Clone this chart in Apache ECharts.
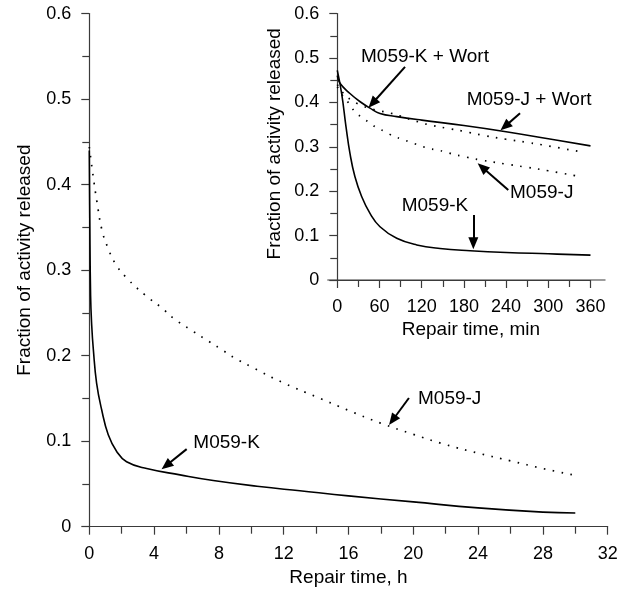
<!DOCTYPE html>
<html>
<head>
<meta charset="utf-8">
<script src="https://cdn.jsdelivr.net/npm/echarts@6/dist/echarts.min.js"></script>
<style>
  html, body { margin: 0; padding: 0; background: #fff; }
  #chart { width: 626px; height: 589px; }
</style>
</head>
<body>
<div id="chart"></div>
<script>
// ---- Main panel: repair time in hours ----
const kHours = [0, 0.03, 0.08, 0.15, 0.25, 0.45, 0.76, 1.17, 1.69, 2.3, 3.54, 5.6, 7.65, 10.5, 13, 16, 20, 24, 28, 30];
const kFraction = [0.44, 0.36, 0.27, 0.235, 0.207, 0.168, 0.137, 0.1075, 0.088, 0.076, 0.068, 0.0606, 0.054, 0.047, 0.042, 0.036, 0.029, 0.022, 0.017, 0.016];

const jHours = [0, 0.23, 0.47, 0.78, 1.13, 1.6, 2.3, 3.5, 4.4, 5.25, 6.2, 7.1, 8.1, 9, 10, 12, 14, 16, 18, 20, 22, 24, 26, 28, 30];
const jFraction = [0.444, 0.411, 0.38, 0.347, 0.327, 0.308, 0.291, 0.27, 0.257, 0.243, 0.231, 0.22, 0.208, 0.197, 0.187, 0.168, 0.152, 0.136, 0.121, 0.108, 0.096, 0.086, 0.077, 0.068, 0.06];

// ---- Inset: first six hours, in minutes ----
const kMin = [0, 6.2, 12.4, 18, 25, 34.6, 46.5, 60.7, 84.5, 113, 146, 189, 240, 300, 360];
const kMinFraction = [0.472, 0.42, 0.345, 0.285, 0.233, 0.188, 0.15, 0.12, 0.094, 0.079, 0.071, 0.066, 0.062, 0.059, 0.056];

const kWortMin = [0, 3.8, 18, 32, 46.5, 60.7, 84.5, 120, 180, 240, 300, 360];
const kWortFraction = [0.46, 0.443, 0.42, 0.402, 0.387, 0.375, 0.368, 0.36, 0.348, 0.334, 0.318, 0.302];

const jWortMin = [0, 10, 20, 30, 45, 60, 75, 90, 105, 120, 132, 155, 179, 210, 240, 270, 300, 345];
const jWortFraction = [0.44, 0.418, 0.405, 0.396, 0.387, 0.381, 0.376, 0.369, 0.361, 0.354, 0.349, 0.342, 0.335, 0.325, 0.317, 0.31, 0.302, 0.289];

const jMin = [0, 8.5, 18, 25, 35, 46, 56, 68, 80, 92, 103, 115, 129, 141, 153, 165, 177, 205, 240, 269, 300, 345];
const jMinFraction = [0.435, 0.413, 0.395, 0.379, 0.366, 0.354, 0.343, 0.334, 0.324, 0.317, 0.311, 0.304, 0.297, 0.293, 0.289, 0.283, 0.279, 0.27, 0.261, 0.254, 0.246, 0.233];

const zip = (xs, ys) => xs.map((x, i) => [x, ys[i]]);

const FONT = "'Liberation Sans', Arial, Helvetica, sans-serif";
const INK = '#000';
const AXIS = '#3a3a3a';
const SMOOTH = 0.45;

function valueAxis(gridIndex, min, max, interval, extra) {
  return Object.assign({
    type: 'value', gridIndex, min, max, interval,
    axisLine: { show: true, onZero: false, lineStyle: { color: AXIS, width: 1.2 } },
    axisTick: { show: true, inside: false, length: 8, lineStyle: { color: AXIS, width: 1.2 } },
    minorTick: { show: true, splitNumber: 2, length: 7, lineStyle: { color: AXIS, width: 1.2 } },
    splitLine: { show: false },
    minorSplitLine: { show: false },
    axisLabel: { fontFamily: FONT, fontSize: 18, color: INK, margin: 18 },
    nameLocation: 'middle',
    nameTextStyle: { fontFamily: FONT, fontSize: 19, color: INK }
  }, extra || {});
}

const solid = { color: INK, width: 1.6, type: 'solid' };
const dotted = { color: INK, width: 1.7, type: [1.6, 7.4], cap: 'butt' };

// arrow from a label toward the curve: [from, to] in data coordinates
function arrow(from, to) {
  return [
    { coord: from, symbol: 'none' },
    { coord: to, symbol: 'triangle', symbolSize: [10, 12] }
  ];
}
function tag(text, at) {
  return {
    coord: at, value: text, symbol: 'circle', symbolSize: 0,
    label: {
      show: true, position: 'right', distance: 0, formatter: text,
      fontFamily: FONT, fontSize: 19, color: INK
    }
  };
}
function annotate(arrows, tags) {
  return {
    markLine: {
      silent: true, animation: false,
      lineStyle: { color: INK, width: 2, type: 'solid' },
      label: { show: false },
      emphasis: { disabled: true },
      data: arrows
    },
    markPoint: {
      silent: true, animation: false,
      itemStyle: { color: 'transparent' },
      data: tags
    }
  };
}
function curve(name, xi, xs, ys, style, ann) {
  return Object.assign({
    name, type: 'line', xAxisIndex: xi, yAxisIndex: xi,
    data: zip(xs, ys), showSymbol: false, smooth: SMOOTH,
    lineStyle: style, silent: true
  }, ann);
}

const chart = echarts.init(document.getElementById('chart'), null, { renderer: 'canvas' });

chart.setOption({
  animation: false,
  backgroundColor: '#fff',
  grid: [
    { left: 89.3, right: 18.3, top: 13.6, bottom: 62.3, outerBoundsMode: 'none' },
    { left: 337.3, width: 253.2, top: 13.6, height: 266.4, outerBoundsMode: 'none' }
  ],
  xAxis: [
    valueAxis(0, 0, 32, 4, { name: 'Repair time, h', nameGap: 42 }),
    valueAxis(1, 0, 360, 60, {
      name: 'Repair time, min', nameGap: 40,
      nameTextStyle: { fontFamily: FONT, fontSize: 19, color: INK, padding: [0, 0, 0, 14] }
    })
  ],
  yAxis: [
    valueAxis(0, 0, 0.6, 0.1, {
      name: 'Fraction of activity released', nameGap: 55, nameRotate: 90,
      nameTextStyle: { fontFamily: FONT, fontSize: 19, color: INK, padding: [0, 0, 0, 20] }
    }),
    valueAxis(1, 0, 0.6, 0.1, {
      name: 'Fraction of activity released', nameGap: 53, nameRotate: 90,
      nameTextStyle: { fontFamily: FONT, fontSize: 19, color: INK, padding: [0, 0, 0, 6] }
    })
  ],
  series: [
    curve('M059-K', 0, kHours, kFraction, solid,
      annotate([arrow([6.01, 0.0907], [4.75, 0.0715])], [tag('M059-K', [6.42, 0.098])])),
    curve('M059-J', 0, jHours, jFraction, dotted,
      annotate([arrow([19.73, 0.1505], [18.72, 0.1245])], [tag('M059-J', [20.29, 0.1497])])),
    curve('M059-K (min)', 1, kMin, kMinFraction, solid,
      annotate([arrow([193.4, 0.1464], [193.4, 0.083])], [tag('M059-K', [91.6, 0.1667])])),
    curve('M059-K + Wort', 1, kWortMin, kWortFraction, solid,
      annotate([arrow([96.3, 0.48], [50, 0.398])], [tag('M059-K + Wort', [33.7, 0.502])])),
    curve('M059-J + Wort', 1, jWortMin, jWortFraction, dotted,
      annotate([arrow([259.8, 0.3755], [238.5, 0.346])], [tag('M059-J + Wort', [184, 0.405])])),
    curve('M059-J (min)', 1, jMin, jMinFraction, dotted,
      annotate([arrow([243.1, 0.2027], [206, 0.254])], [tag('M059-J', [245.6, 0.196])]))
  ]
});

// The inset's time axis line runs a little past both ends of its scale.
const insetStart = chart.convertToPixel({ gridIndex: 1 }, [0, 0]);
const insetEnd = chart.convertToPixel({ gridIndex: 1 }, [360, 0]);
chart.setOption({
  graphic: [{
    type: 'line', silent: true, z: 5,
    shape: { x1: insetStart[0] - 10, y1: insetStart[1], x2: insetEnd[0] + 15, y2: insetEnd[1] },
    style: { stroke: AXIS, lineWidth: 1.2 }
  }]
});
</script>
</body>
</html>
